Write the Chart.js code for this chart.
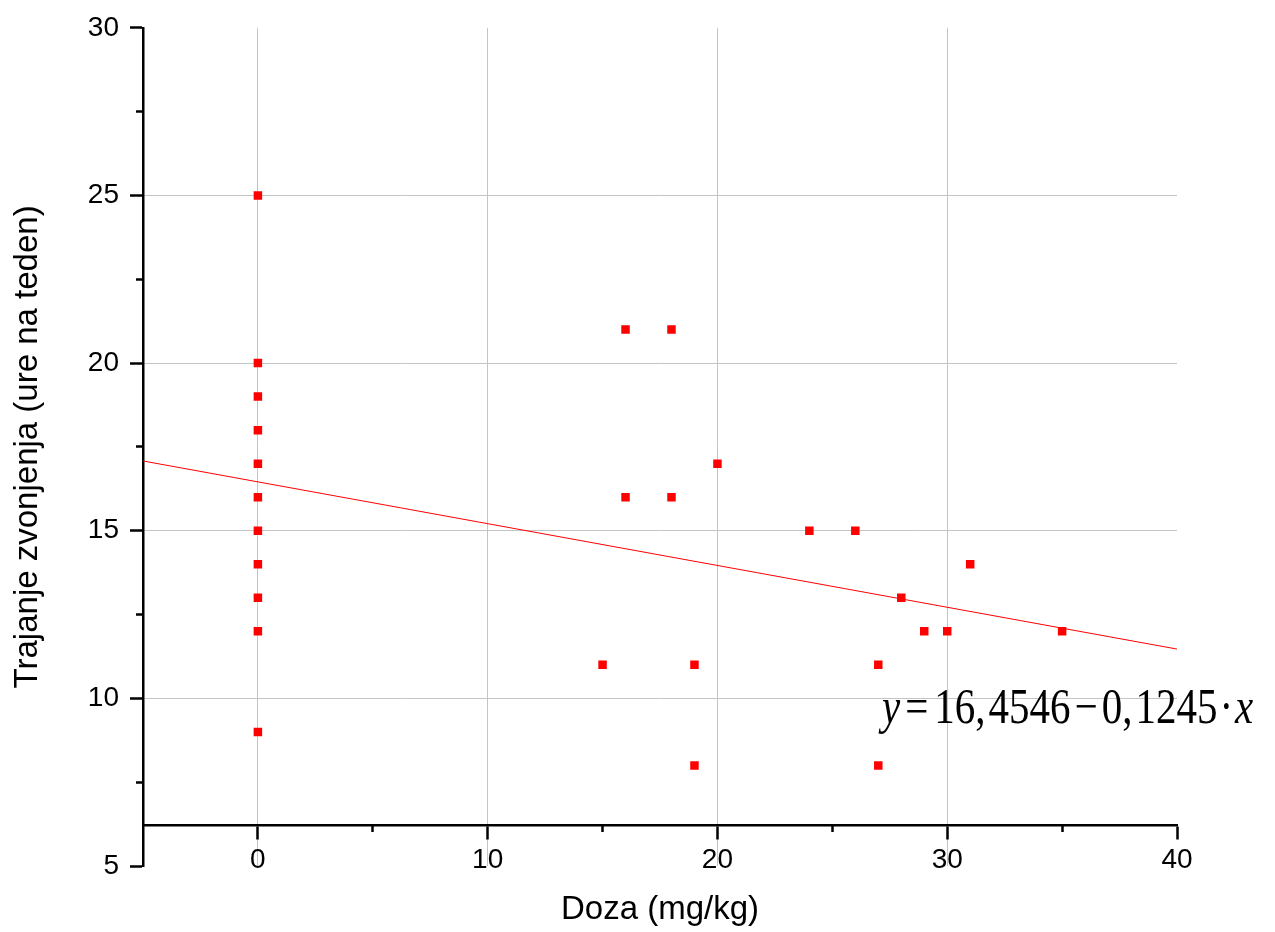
<!DOCTYPE html>
<html><head><meta charset="utf-8">
<script src="https://cdn.jsdelivr.net/npm/chart.js@4"></script>
<style>html,body{margin:0;padding:0;background:#fff;} canvas{display:block;}</style>
</head><body>
<canvas id="c" width="1275" height="932"></canvas>
<script>
// ---- data ----
const doseX  = [0,0,0,0,0,0,0,0,0,0,0,15,16,16,18,18,19,19,20,24,26,27,27,28,29,30,31,35];
const hoursY = [25,20,19,18,17,16,15,14,13,12,9,11,21,16,21,16,11,8,17,15,15,11,8,13,12,12,14,12];
const fitX = [-5, 40];
const fitY = [17.08, 11.47];
const xMajorTicks = [0, 10, 20, 30, 40];
const xMinorTicks = [5, 15, 25, 35];
const yMajorTicks = [5, 10, 15, 20, 25, 30];
const yMinorTicks = [7.5, 12.5, 17.5, 22.5, 27.5];
const xRange = [-5, 40];
const yRange = [5, 30];
const xAxisCrossY = 6.22;
const xTitle = 'Doza (mg/kg)';
const yTitle = 'Trajanje zvonjenja (ure na teden)';
const eqParts  = ['y', '=', '16,', '4546', '\u2212', '0,', '1245', '\u00B7', 'x'];
const eqItalic = [true, false, false, false, false, false, false, false, true];

const GRID = '#c4c4c4';
const SANS = '"Liberation Sans", Arial, sans-serif';

const scatterPts = doseX.map((x, i) => ({x, y: hoursY[i]}));
const fitPts = fitX.map((x, i) => ({x, y: fitY[i]}));

const setTicks = (arr) => (scale) => { scale.ticks = arr.map(v => ({value: v})); };

const equationPlugin = {
  id: 'equation',
  afterDraw(chart) {
    const ctx = chart.ctx;
    const gapsAfter = [5, 6, 3, 4, 4, 3, 2, 2, 0];
    let x = 882;
    ctx.save();
    ctx.fillStyle = '#000';
    ctx.textBaseline = 'alphabetic';
    ctx.textAlign = 'left';
    ctx.translate(0, 723);
    ctx.scale(1, 1.22);
    eqParts.forEach((p, i) => {
      ctx.font = (eqItalic[i] ? 'italic ' : '') + '41px "Liberation Serif", "Times New Roman", serif';
      ctx.fillText(p, x, 0);
      x += ctx.measureText(p).width + gapsAfter[i];
    });
    ctx.restore();
  }
};

new Chart(document.getElementById('c'), {
  type: 'scatter',
  data: {
    datasets: [
      {
        type: 'scatter',
        data: scatterPts,
        pointStyle: 'rect',
        pointRadius: 6,
        pointHoverRadius: 6,
        pointBackgroundColor: '#ff0000',
        pointBorderWidth: 0,
        borderColor: '#ff0000',
        order: 0
      },
      {
        type: 'line',
        data: fitPts,
        borderColor: '#ff0000',
        borderWidth: 1,
        pointRadius: 0,
        fill: false,
        tension: 0,
        order: 1
      }
    ]
  },
  options: {
    responsive: false,
    animation: false,
    devicePixelRatio: 1,
    layout: { padding: { top: 24, right: 98, bottom: 66, left: 0 } },
    plugins: { legend: { display: false }, tooltip: { enabled: false } },
    scales: {
      x: {
        type: 'linear',
        min: xRange[0], max: xRange[1],
        position: { y: xAxisCrossY },
        afterBuildTicks: setTicks(xMajorTicks),
        grid: {
          color: (c) => (c.tick && c.tick.value === 40) ? 'rgba(0,0,0,0)' : GRID,
          lineWidth: 1,
          drawTicks: true,
          tickLength: 13,
          tickColor: '#000',
          tickWidth: 2.5
        },
        border: { display: true, color: '#000', width: 2.5 },
        ticks: { color: '#000', font: { family: SANS, size: 28 }, padding: 5, maxRotation: 0 },
        title: { display: true, text: xTitle, color: '#000', font: { family: SANS, size: 33 }, padding: { top: 8, bottom: 0 } }
      },
      xMinor: {
        type: 'linear', axis: 'x',
        min: xRange[0], max: xRange[1],
        position: { y: xAxisCrossY },
        afterBuildTicks: setTicks(xMinorTicks),
        grid: { drawOnChartArea: false, drawTicks: true, tickLength: 7, tickColor: '#000', tickWidth: 2.5 },
        border: { display: false },
        ticks: { display: false }
      },
      y: {
        type: 'linear',
        min: yRange[0], max: yRange[1],
        position: 'left',
        afterBuildTicks: setTicks(yMajorTicks),
        afterFit: (s) => { s.width = 143; },
        grid: {
          color: (c) => (c.tick && (c.tick.value === 5 || c.tick.value === 30)) ? 'rgba(0,0,0,0)' : GRID,
          lineWidth: 1,
          drawTicks: true,
          tickLength: 13,
          tickColor: '#000',
          tickWidth: 2.5
        },
        border: { display: true, color: '#000', width: 2.5 },
        ticks: { color: '#000', font: { family: SANS, size: 28 }, padding: 11 },
        title: { display: true, text: yTitle, color: '#000', font: { family: SANS, size: 33 }, padding: { top: 8, bottom: 0 } }
      },
      yMinor: {
        type: 'linear', axis: 'y',
        min: yRange[0], max: yRange[1],
        position: { x: xRange[0] },
        afterBuildTicks: setTicks(yMinorTicks),
        grid: { drawOnChartArea: false, drawTicks: true, tickLength: 7, tickColor: '#000', tickWidth: 2.5 },
        border: { display: false },
        ticks: { display: false }
      }
    }
  },
  plugins: [equationPlugin]
});
</script>
</body></html>
